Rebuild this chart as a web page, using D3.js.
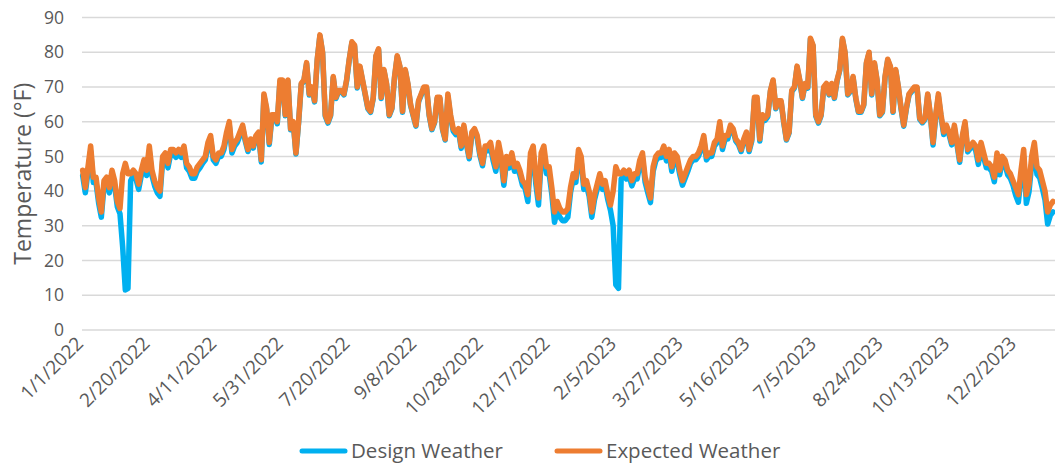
<!DOCTYPE html>
<html>
<head>
<meta charset="utf-8">
<script src="https://cdn.jsdelivr.net/npm/d3@7"></script>
<style>
  body { margin: 0; background: #fff; }
  text { font-family: "Open Sans", "Liberation Sans", sans-serif; fill: #595959; }
</style>
</head>
<body>
<div id="chart"></div>
<script>
// one reading every 2 days, starting 1/1/2022
const startDate = new Date(2022, 0, 1);
const stepDays = 2;

const expected2022 = [
  46,41,47,53,44,44,38,34,43,44,
  41,46,43,37,35,45,48,45,45,46,
  45,42,46,49,46,53,46,43,41,40,
  50,51,48,52,52,51,52,51,53,48,
  47,45,45,47,48,49,50,54,56,50,
  49,51,51,53,57,60,52,54,55,57,
  59,55,52,55,53,56,57,49,68,64,
  54,62,62,60,72,72,62,72,58,60,
  51,60,71,72,77,68,70,66,78,85,
  80,62,60,62,73,67,69,69,68,72,
  78,83,82,70,76,72,68,64,63,67,
  79,81,67,75,71,62,64,73,79,76,
  63,75,71,65,62,59,66,68,70,70,
  62,58,60,67,67,58,55,68,62,58,
  57,58,53,59,54,50,57,58,56,51,
  48,53,53,54,50,47,54,50,43,50,
  48,51,47,48,46,43,42,39,51,53,
  44,38,51,53,47,47,41,34,37,35,
  34,34,35
];
const expected2023 = [
  41,45,44,52,50,42,43,40,34,39,
  42,45,42,43,39,36,40,47,45,45,
  46,45,46,43,45,45,49,51,44,41,
  38,47,50,51,51,53,50,52,47,51,
  50,46,43,45,47,49,50,50,51,53,
  56,50,51,51,54,55,60,53,56,56,
  59,58,55,54,52,55,57,52,55,67,
  67,55,62,61,62,69,72,64,66,66,
  60,55,57,69,70,76,72,67,71,70,
  84,82,62,60,62,70,71,68,71,67,
  72,75,84,80,68,69,73,67,63,63,
  65,77,80,68,77,72,62,63,73,78,
  76,63,75,70,64,59,64,68,69,70,
  70,61,60,61,68,62,54,62,68,62,
  57,59,57,54,59,54,49,56,60,52,
  53,54,53,49,54,51,48,48,47,44,
  51,46,50,49,46,45,43,41,39,46,
  52,39,42,50,54,47,46,43,40,34,
  36,37
];
const design2022 = [
  44.5,39.5,45.5,51.5,42.5,42.5,36.5,32.5,41.5,42.5,
  39.5,44.5,41.5,35.5,33.5,24,11.5,12,43,44.5,
  43.5,40.5,44.5,47.5,44.5,51.5,44.5,41.5,39.5,38.5,
  48.7,49.7,46.7,50.7,50.7,49.7,50.7,49.7,51.7,46.7,
  45.7,43.7,43.7,45.7,46.7,48,49,53,55,49,
  48,50,50,52,56,59,51,53,54,56,
  58.4,54.4,51.4,54.4,52.4,55.4,56.4,48.4,67.4,63.4,
  53.4,61.4,61.4,59.4,71.4,71.4,61.7,71.7,57.7,59.7,
  50.7,59.7,70.7,71.7,76.7,67.7,69.7,65.7,77.7,84.7,
  79.7,61.6,59.6,61.7,72.7,66.7,68.7,68.7,67.7,71.7,
  77.7,82.7,81.7,69.7,75.7,71.7,67.7,63.7,62.7,66.7,
  78.7,80.7,66.7,74.7,70.7,61.7,63.7,72.7,78.7,75.7,
  62.7,74.7,70.7,64.7,61.7,58.7,65.7,67.7,69.7,69.7,
  61.7,57.7,59.7,66.7,66.7,57.7,54.7,67.3,61.3,57.3,
  56.3,57.3,52.3,58.3,53.3,49.3,56.3,57.3,55.3,50.3,
  47.3,52.3,51.7,52.7,48.7,45.7,52.7,48.7,41.7,48.7,
  46.7,49.7,45.7,46.7,44.7,41.7,40.7,37,49,51,
  42,36,49,51,45,45,39,31,34.5,32.5,
  31.5,31.5,32.5
];
const design2023 = [
  39.5,43.5,42.5,50.5,48.5,40.5,41.5,38.5,32.5,37.5,
  40.5,43.5,40.5,41.5,37.5,34.5,30,13,12,43.5,
  44.5,43.5,44.5,41.5,43.5,43.5,47.5,49.5,42.5,39.5,
  36.7,45.7,48.7,49.7,49.7,51.7,48.7,50.7,45.7,49.7,
  48.7,44.7,41.7,43.7,45.7,48,49,49,50,52,
  55,49,50,50,53,54,59,52,55,55,
  58.4,57.4,54.4,53.4,51.4,54.4,56.4,51.4,54.4,66.4,
  66.4,54.4,61.4,60.4,61.4,68.7,71.7,63.7,65.7,65.7,
  59.7,54.7,56.7,68.7,69.7,75.7,71.7,66.7,70.7,69.7,
  83.7,81.7,61.6,59.6,61.7,69.7,70.7,67.7,70.7,66.7,
  71.7,74.7,83.7,79.7,67.7,68.7,72.7,66.7,62.7,62.7,
  64.7,76.7,79.7,67.7,76.7,71.7,61.7,62.7,72.7,77.7,
  75.7,62.7,74.7,69.7,63.7,58.7,63.7,67.7,68.7,69.7,
  69.7,60.7,59.7,60.7,67.7,61.7,53.3,61.3,67.3,61.3,
  56.3,58.3,56.3,53.3,58.3,53.3,48.3,55.3,59.3,51.3,
  52.3,53.3,51.7,47.7,52.7,49.7,46.7,46.7,45.7,42.7,
  49.7,44.7,48.7,47.7,44.7,43.7,41.7,38.8,36.8,43.8,
  49.8,36.5,39.8,47.8,51.8,44.8,43.8,40.8,37.5,30.5,
  33,34
];

const yTicks = [0, 10, 20, 30, 40, 50, 60, 70, 80, 90];
const xTickLabels = ["1/1/2022", "2/20/2022", "4/11/2022", "5/31/2022", "7/20/2022",
  "9/8/2022", "10/28/2022", "12/17/2022", "2/5/2023", "3/27/2023", "5/16/2023",
  "7/5/2023", "8/24/2023", "10/13/2023", "12/2/2023"];

const seriesNames = ["Design Weather", "Expected Weather"];
const colors = ["#00b0f0", "#ed7d31"];

const width = 1055, height = 466;
const plot = { left: 82, right: 1055, top: 17.5, bottom: 330 };

const svg = d3.select("#chart").append("svg")
    .attr("width", width)
    .attr("height", height);

// build the point lists
const design = design2022.concat(design2023).map((v, i) => ({ date: d3.timeDay.offset(startDate, i * stepDays), value: v }));
const expected = expected2022.concat(expected2023).map((v, i) => ({ date: d3.timeDay.offset(startDate, i * stepDays), value: v }));

// category axis: each day takes one slot, points sit in the middle
const x = d3.scaleTime()
    .domain([new Date(2021, 11, 31, 12), new Date(2023, 11, 31, 12)])
    .range([plot.left, plot.right]);

const y = d3.scaleLinear()
    .domain([0, 90])
    .range([plot.bottom, plot.top]);

// gridlines
svg.append("g").selectAll("line")
    .data(yTicks)
    .enter().append("line")
    .attr("x1", plot.left)
    .attr("x2", plot.right)
    .attr("y1", d => y(d))
    .attr("y2", d => y(d))
    .attr("stroke", "#d9d9d9")
    .attr("stroke-width", 1.5);

// y labels
svg.append("g").selectAll("text")
    .data(yTicks)
    .enter().append("text")
    .attr("x", 64)
    .attr("y", d => y(d))
    .attr("dy", "0.35em")
    .attr("text-anchor", "end")
    .attr("font-size", 17.5)
    .text(d => d);

// x labels, rotated
const parseLabel = d3.timeParse("%m/%d/%Y");
svg.append("g").selectAll("text")
    .data(xTickLabels)
    .enter().append("text")
    .attr("transform", d => `translate(${x(parseLabel(d)) - 3},${plot.bottom + 10}) rotate(-45)`)
    .attr("dy", "0.35em")
    .attr("text-anchor", "end")
    .attr("font-size", 19)
    .text(d => d);

// y title
svg.append("text")
    .attr("transform", `translate(31,${(plot.top + plot.bottom) / 2}) rotate(-90)`)
    .attr("text-anchor", "middle")
    .attr("font-size", 23)
    .text("Temperature (°F)");

// lines
const line = d3.line()
    .x(d => x(d.date))
    .y(d => y(d.value));

[design, expected].forEach((s, i) => {
    svg.append("path")
        .datum(s)
        .attr("d", line)
        .attr("fill", "none")
        .attr("stroke", colors[i])
        .attr("stroke-width", 5.5)
        .attr("stroke-linejoin", "round")
        .attr("stroke-linecap", "round");
});

// legend
const legendX = [302, 557];
seriesNames.forEach((name, i) => {
    svg.append("line")
        .attr("x1", legendX[i])
        .attr("x2", legendX[i] + 43)
        .attr("y1", 451)
        .attr("y2", 451)
        .attr("stroke", colors[i])
        .attr("stroke-width", 5)
        .attr("stroke-linecap", "round");
    svg.append("text")
        .attr("x", legendX[i] + 49)
        .attr("y", 451)
        .attr("dy", "0.35em")
        .attr("font-size", 20.5)
        .text(name);
});
</script>
</body>
</html>
